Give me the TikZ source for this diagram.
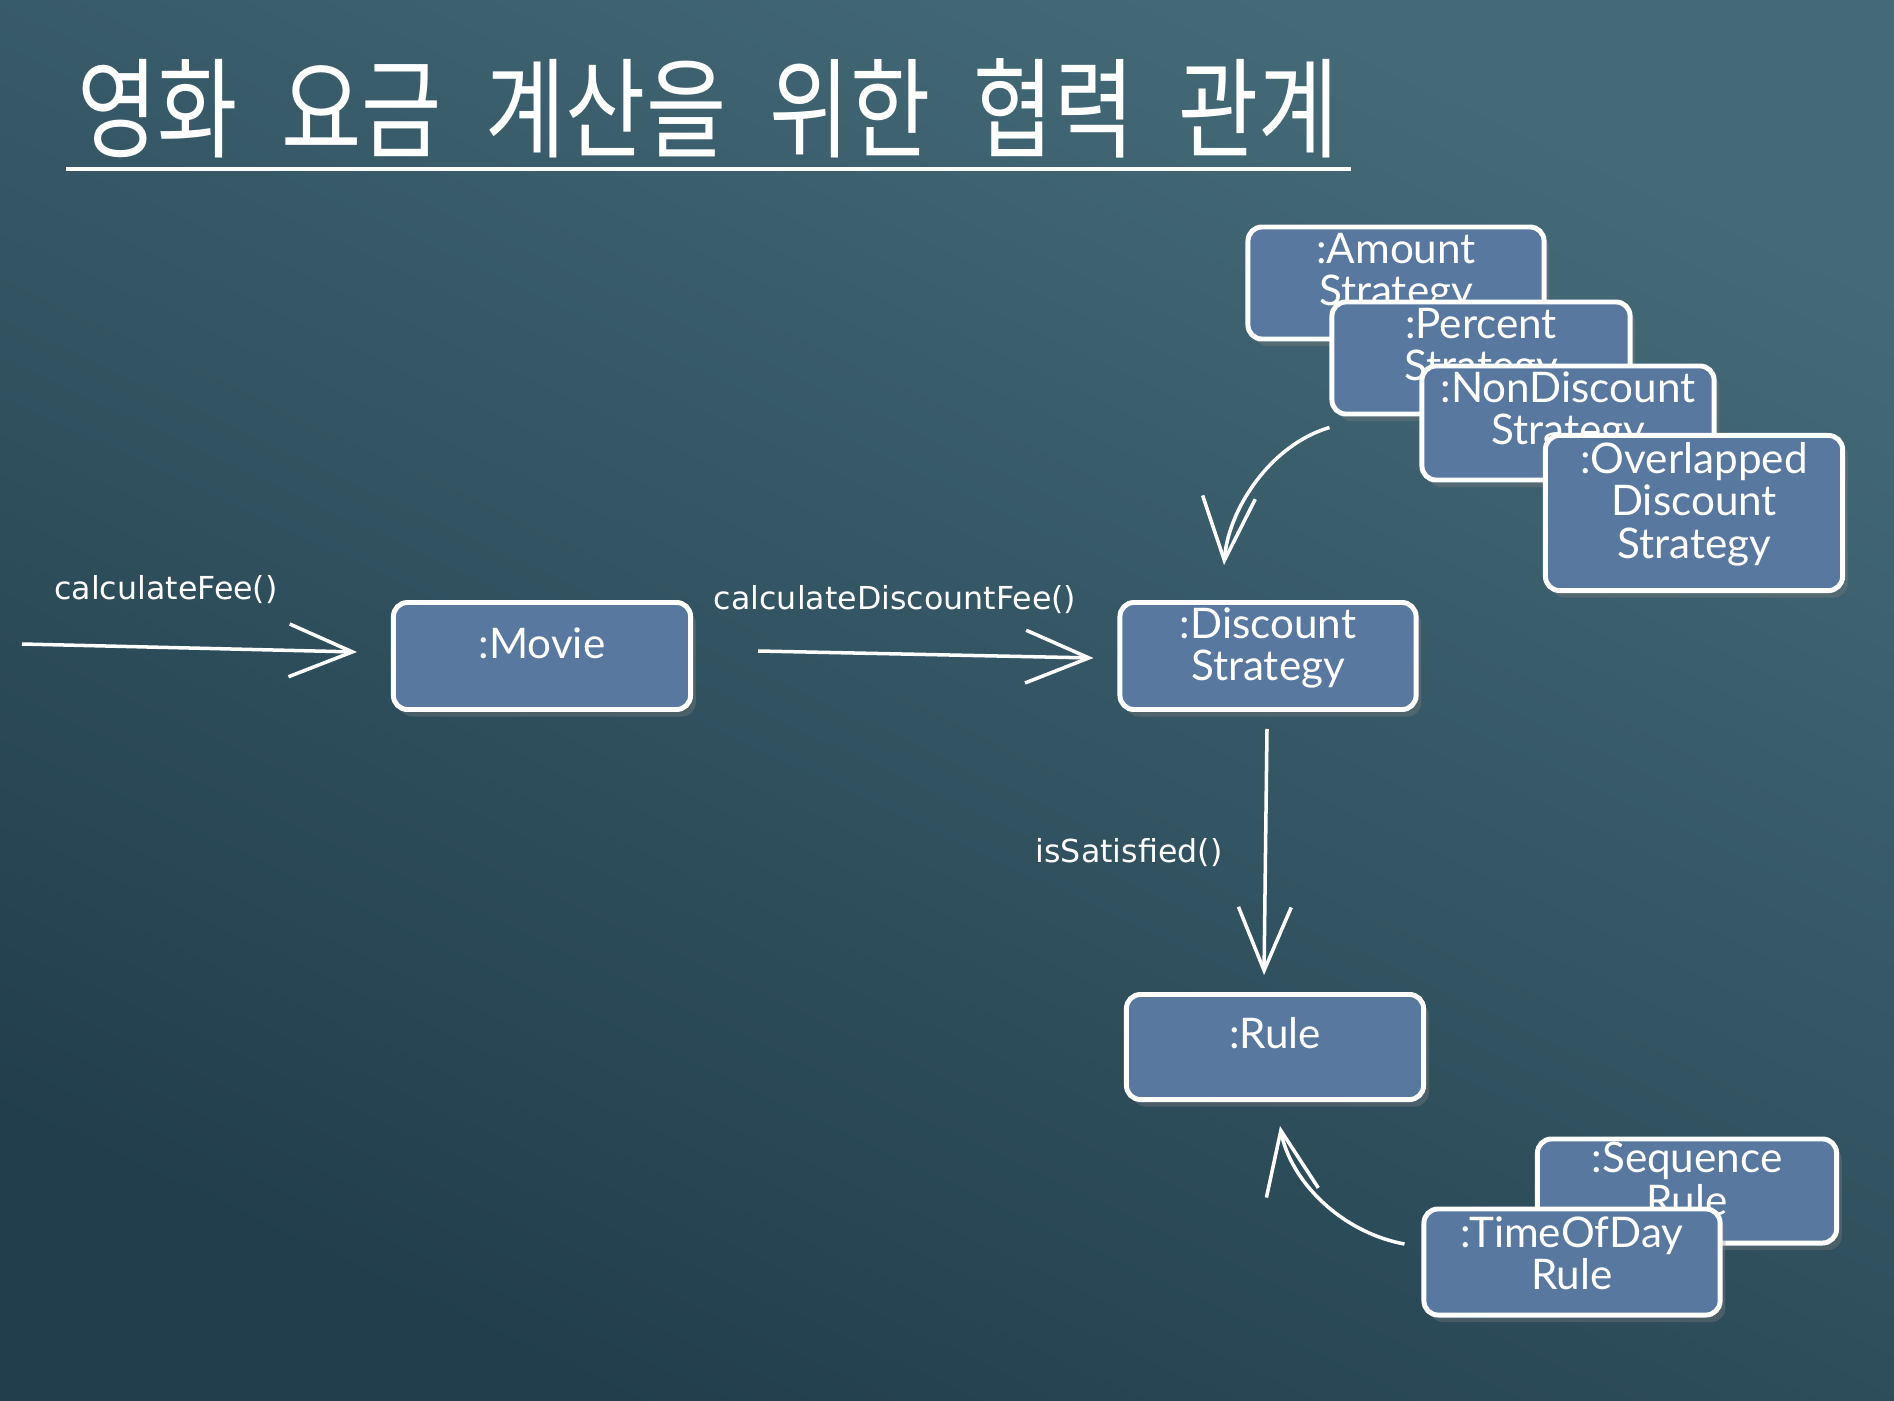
\documentclass[tikz,border=0pt]{standalone}
\usepackage{fontspec}
\setmainfont{Lato}
\newfontfamily\hangulfont{Noto Sans CJK KR}
\newfontfamily\notefont{DejaVu Sans}
\usepackage{graphicx}
\usetikzlibrary{arrows.meta,positioning,shadows}

\definecolor{boardtop}{RGB}{68,106,120}
\definecolor{boardbot}{RGB}{34,62,76}
\definecolor{objfill}{RGB}{88,120,160}

\begin{document}
\begin{tikzpicture}[x=0.01cm,y=-0.01cm,
    obj/.style={draw=white,line width=1.4pt,rounded corners=4pt,fill=objfill,
        drop shadow={shadow xshift=1.5pt,shadow yshift=-2pt,opacity=.35}},
    objtext/.style={text=white,align=center,inner sep=0pt,text depth=0pt,font=\fontsize{12}{12}\selectfont},
    msg/.style={white,line width=1pt,-{Straight Barb[length=18pt,width=15pt]}},
    msgtext/.style={text=white,font=\notefont\fontsize{9}{11}\selectfont}]

% board
\useasboundingbox (0,0) rectangle (1894,1400);
\shade[top color=boardtop,bottom color=boardbot,shading angle=-25] (0,0) rectangle (1894,1400);

% title
\node[text=white,inner sep=0pt] (title) at (708,108) {\scalebox{0.8}[1]{\hangulfont\fontsize{31}{31}\selectfont 영화\hspace{0.5em}요금\hspace{0.5em}계산을\hspace{0.5em}위한\hspace{0.5em}협력\hspace{0.5em}관계}};
\draw[white,line width=1.2pt] (66,169) -- (1351,169);

% discount strategies
\node[obj,minimum width=2.96cm,minimum height=1.12cm] (amount) at (1396,283) {};
\node[objtext,below=0.08cm of amount.north] (amountlbl) {:Amount\\Strategy};
\node[obj,minimum width=2.98cm,minimum height=1.12cm] (percent) at (1481,358) {};
\node[objtext,below=0.08cm of percent.north] (percentlbl) {:Percent\\Strategy};
\node[obj,minimum width=2.92cm,minimum height=1.14cm] (nondisc) at (1568,423) {};
\node[objtext,below=0.07cm of nondisc.north] (nondisclbl) {:NonDiscount\\Strategy};
\node[obj,minimum width=2.97cm,minimum height=1.55cm] (overlap) at (1694,513) {};
\node[objtext,below=0.09cm of overlap.north] (overlaplbl) {:Overlapped\\Discount\\Strategy};

% main objects
\node[obj,minimum width=2.97cm,minimum height=1.07cm] (movie) at (542,656) {};
\node[objtext,below=0.27cm of movie.north] (movielbl) {:Movie};
\node[obj,minimum width=2.96cm,minimum height=1.07cm] (discount) at (1268,656) {};
\node[objtext,below=0.07cm of discount.north] (discountlbl) {:Discount\\Strategy};
\node[obj,minimum width=2.97cm,minimum height=1.05cm] (rule) at (1275,1047) {};
\node[objtext,below=0.25cm of rule.north] (rulelbl) {:Rule};

% rules
\node[obj,minimum width=2.99cm,minimum height=1.04cm] (sequence) at (1687,1191) {};
\node[objtext,below=0.05cm of sequence.north] (sequencelbl) {:Sequence\\Rule};
\node[obj,minimum width=2.96cm,minimum height=1.06cm] (timeofday) at (1572,1262) {};
\node[objtext,below=0.09cm of timeofday.north] (timeofdaylbl) {:TimeOfDay\\Rule};

% messages
\coordinate (caller) at (22,644);
\draw[msg] (caller) -- ([shift={(-34,-4)}]movie.west);
\draw[msg] ([shift={(65,-5)}]movie.east) -- ([shift={(-24,2)}]discount.west);
\draw[msg] ([shift={(-1,17)}]discount.south) -- ([shift={(-11,-17)}]rule.north);
\draw[msg] ([shift={(0,11)}]percent.south west) .. controls (1270,445) and (1228,510) .. ([shift={(-44,-35)}]discount.north);
\draw[msg] ([shift={(-17,-18)}]timeofday.west) .. controls (1340,1232) and (1290,1180) .. ([shift={(5,24)}]rule.south);

\node[msgtext] (feelbl) at (166,590) {calculateFee()};
\node[msgtext] (discfeelbl) at (895,600) {calculateDiscountFee()};
\node[msgtext] (satlbl) at (1129,853) {isSatisfied()};
\end{tikzpicture}
\end{document}
